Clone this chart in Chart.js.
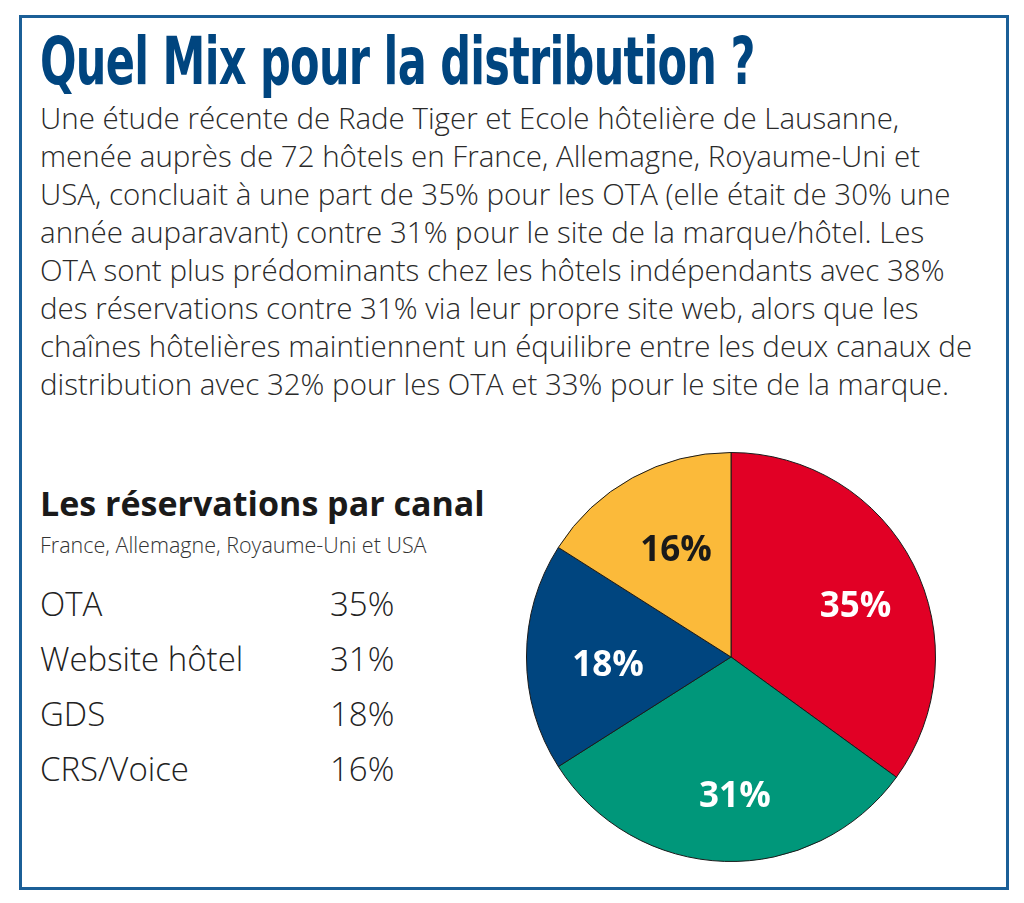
<!DOCTYPE html>
<html>
<head>
<meta charset="utf-8">
<script src="https://cdn.jsdelivr.net/npm/chart.js@4"></script>
<style>
  body { margin: 0; background: #fff; width: 1024px; height: 903px; overflow: hidden; font-family: "Open Sans", sans-serif; }
  #frame { position: absolute; left: 19px; top: 15px; width: 984px; height: 869px; border: 3px solid #1b5f97; }
  #title { position: absolute; left: 40px; top: 29px; font-family: "DejaVu Sans Condensed", "DejaVu Sans", sans-serif; font-weight: bold;
           font-size: 66px; line-height: 66px; color: #00457f; white-space: nowrap; transform-origin: 0 0; transform: scaleX(0.725); letter-spacing: -1px; }
  #intro { position: absolute; left: 40px; top: 99px; font-size: 29.5px; line-height: 38px; color: #2a2a2a; font-weight: 300; }
  #intro div { white-space: nowrap; }
  #tblTitle { position: absolute; left: 40px; top: 485px; font-size: 34px; line-height: 36px; font-weight: bold; color: #1a1a1a; white-space: nowrap; }
  #tblSub { position: absolute; left: 40px; top: 532px; font-size: 21.5px; line-height: 26px; color: #333; white-space: nowrap; font-weight: 300; }
  #rows { position: absolute; left: 40px; top: 581px; font-size: 33px; color: #222; font-weight: 300; }
  .row { height: 55px; position: relative; white-space: nowrap; }
  .row span:last-child { position: absolute; left: 290px; }
  #pieBox { position: absolute; left: 521px; top: 447px; width: 420px; height: 420px; }
</style>
</head>
<body>
<div id="frame"></div>
<div id="title">Quel Mix pour la distribution ?</div>
<div id="intro">
  <div>Une étude récente de Rade Tiger et Ecole hôtelière de Lausanne,</div>
  <div>menée auprès de 72 hôtels en France, Allemagne, Royaume-Uni et</div>
  <div>USA, concluait à une part de 35% pour les OTA (elle était de 30% une</div>
  <div>année auparavant) contre 31% pour le site de la marque/hôtel. Les</div>
  <div>OTA sont plus prédominants chez les hôtels indépendants avec 38%</div>
  <div>des réservations contre 31% via leur propre site web, alors que les</div>
  <div>chaînes hôtelières maintiennent un équilibre entre les deux canaux de</div>
  <div>distribution avec 32% pour les OTA et 33% pour le site de la marque.</div>
</div>
<div id="tblTitle">Les réservations par canal</div>
<div id="tblSub">France, Allemagne, Royaume-Uni et USA</div>
<div id="rows"></div>
<div id="pieBox"><canvas id="pie"></canvas></div>

<script>
const channels = ['OTA', 'Website hôtel', 'GDS', 'CRS/Voice'];
const shares = [35, 31, 18, 16];
const sliceColors = ['#e10025', '#00977a', '#00457f', '#fbba3a'];
const labelColors = ['#ffffff', '#ffffff', '#ffffff', '#1a1a1a'];

// table on the left, built from the same arrays
const rows = document.getElementById('rows');
channels.forEach((name, i) => {
    const row = document.createElement('div');
    row.className = 'row';
    row.innerHTML = '<span>' + name + '</span><span>' + shares[i] + '%</span>';
    rows.appendChild(row);
});

// draws the % inside each slice
const sliceLabels = {
    id: 'sliceLabels',
    afterDatasetsDraw(chart) {
        const ctx = chart.ctx;
        const meta = chart.getDatasetMeta(0);
        ctx.save();
        ctx.font = 'bold 35px "Open Sans", sans-serif';
        ctx.textAlign = 'center';
        ctx.textBaseline = 'middle';
        meta.data.forEach((arc, i) => {
            const mid = (arc.startAngle + arc.endAngle) / 2;
            const r = arc.outerRadius * 0.64;
            ctx.fillStyle = labelColors[i];
            ctx.fillText(shares[i] + '%', arc.x + Math.cos(mid) * r + 8, arc.y + Math.sin(mid) * r + 9);
        });
        ctx.restore();
    }
};

new Chart(document.getElementById('pie'), {
    type: 'pie',
    data: {
        labels: channels,
        datasets: [{ data: shares, backgroundColor: sliceColors, borderColor: '#1a1a1a', borderWidth: 1 }]
    },
    options: {
        responsive: true,
        maintainAspectRatio: false,
        animation: false,
        layout: { padding: 5 },
        plugins: { legend: { display: false }, tooltip: { enabled: false } }
    },
    plugins: [sliceLabels]
});
</script>
</body>
</html>
